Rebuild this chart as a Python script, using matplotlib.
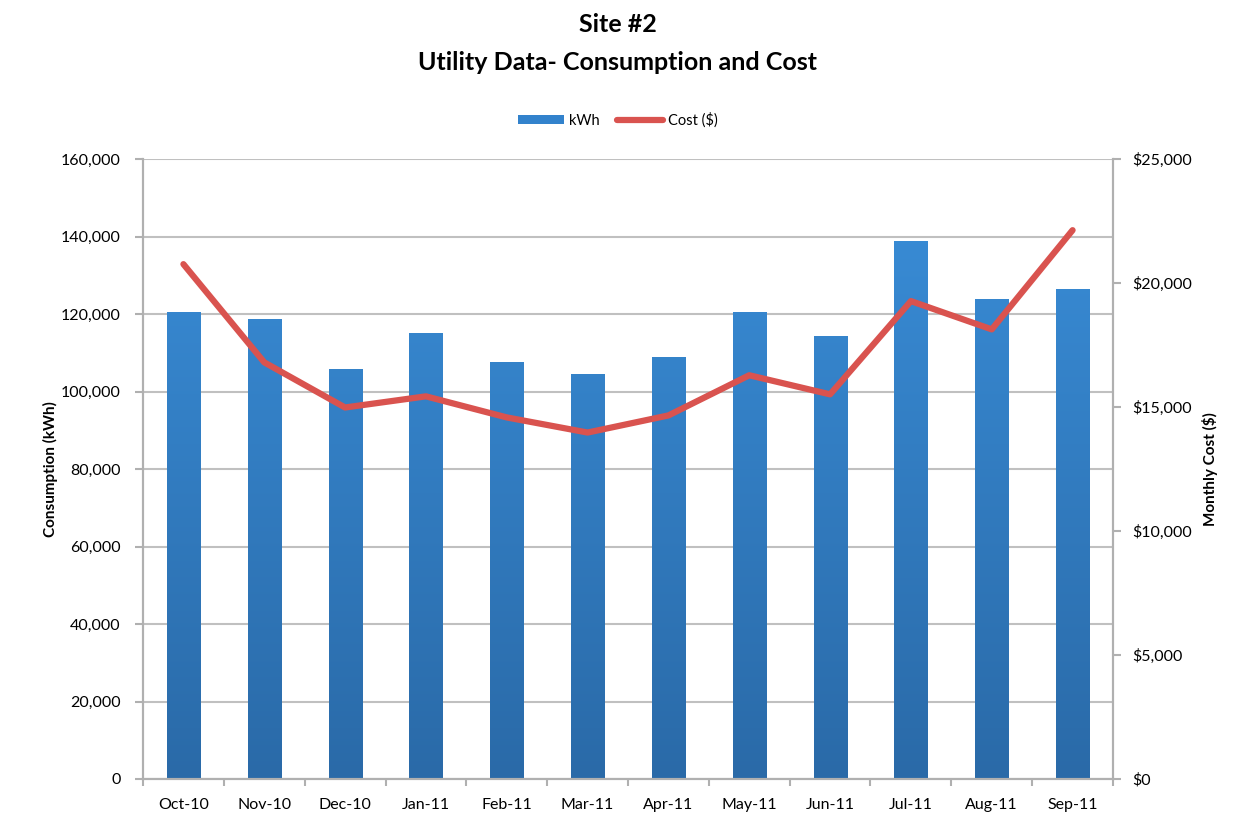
import matplotlib
matplotlib.use("Agg")
import matplotlib.pyplot as plt
import numpy as np
from matplotlib.ticker import FuncFormatter, MultipleLocator, FixedLocator
from matplotlib.colors import LinearSegmentedColormap

plt.rcParams['font.family'] = ['Lato', 'DejaVu Sans']

months = ["Oct-10", "Nov-10", "Dec-10", "Jan-11", "Feb-11", "Mar-11",
          "Apr-11", "May-11", "Jun-11", "Jul-11", "Aug-11", "Sep-11"]
kwh = [120400, 118600, 105700, 115200, 107500, 104400,
       109000, 120400, 114200, 138800, 124000, 126400]
cost = [20760, 16800, 14980, 15430, 14580, 13970,
        14660, 16280, 15510, 19270, 18130, 22130]

fig = plt.figure(figsize=(12.35, 8.16), dpi=100)
ax = fig.add_axes([143/1235, 1-779/816, (1113-143)/1235, (779-159)/816])
ax2 = ax.twinx()

x = np.arange(len(months))
bars = ax.bar(x, kwh, width=0.41, color="#3282cc", zorder=2, label="kWh")

# gradient fill on bars
cmap = LinearSegmentedColormap.from_list("g", ["#2a6aa8", "#3a8fda"])
grad = np.linspace(0, 1, 256).reshape(-1, 1)
for b in bars:
    x0 = b.get_x()
    w = b.get_width()
    im = ax.imshow(grad, cmap=cmap, extent=[x0, x0 + w, 0, 160000],
                   origin="lower", aspect="auto", zorder=2.1)
    im.set_clip_path(b)

ax.set_xlim(-0.5, len(months) - 0.5)
ax.set_ylim(0, 160000)
ax.yaxis.set_major_locator(MultipleLocator(20000))
ax.yaxis.set_major_formatter(FuncFormatter(lambda v, p: f"{int(v):,}"))
ax.grid(axis="y", color="#c0c0c0", linewidth=1.5, zorder=0)
ax.set_axisbelow(True)

ax.set_xticks(x)
ax.set_xticklabels(months)
ax.xaxis.set_minor_locator(FixedLocator(np.arange(-0.5, len(months), 1)))
ax.tick_params(axis="x", which="major", length=0, pad=14, labelsize=11.5)
ax.tick_params(axis="x", which="minor", length=5, color="#b0b0b0", width=1.5)
ax.tick_params(axis="y", length=6, color="#b0b0b0", width=1.5, labelsize=11.5, pad=10)

ax2.set_ylim(0, 25000)
ax2.yaxis.set_major_locator(MultipleLocator(5000))
ax2.yaxis.set_major_formatter(FuncFormatter(lambda v, p: f"${int(v):,}"))
ax2.tick_params(axis="y", length=6, color="#b0b0b0", width=1.5, labelsize=11.5, pad=8)
line, = ax2.plot(x, cost, color="#d9534f", linewidth=4.5, label="Cost ($)",
                 solid_capstyle="round", solid_joinstyle="round", zorder=3)

for a in (ax, ax2):
    a.spines["top"].set_visible(False)
    for s in ["left", "right", "bottom"]:
        a.spines[s].set_color("#b0b0b0")
        a.spines[s].set_linewidth(1.5)

ax.set_ylabel("Consumption (kWh)", fontsize=11, fontweight="bold", labelpad=2)
ax2.set_ylabel("Monthly Cost ($)", fontsize=11, fontweight="bold", labelpad=7)

fig.text(0.5, 1 - 25/816, "Site #2", ha="center", va="center",
         fontsize=18, fontweight="bold")
fig.text(0.5, 1 - 63/816, "Utility Data- Consumption and Cost", ha="center",
         va="center", fontsize=18, fontweight="bold")

fig.legend(handles=[bars, line], labels=["kWh", "Cost ($)"],
           loc="center", bbox_to_anchor=(0.5, 1 - 120/816), ncol=2,
           frameon=False, fontsize=10.5, handlelength=3.2, handletextpad=0.3,
           columnspacing=1.2, handleheight=0.6)

fig.savefig("out.png", dpi=100, facecolor="white")
